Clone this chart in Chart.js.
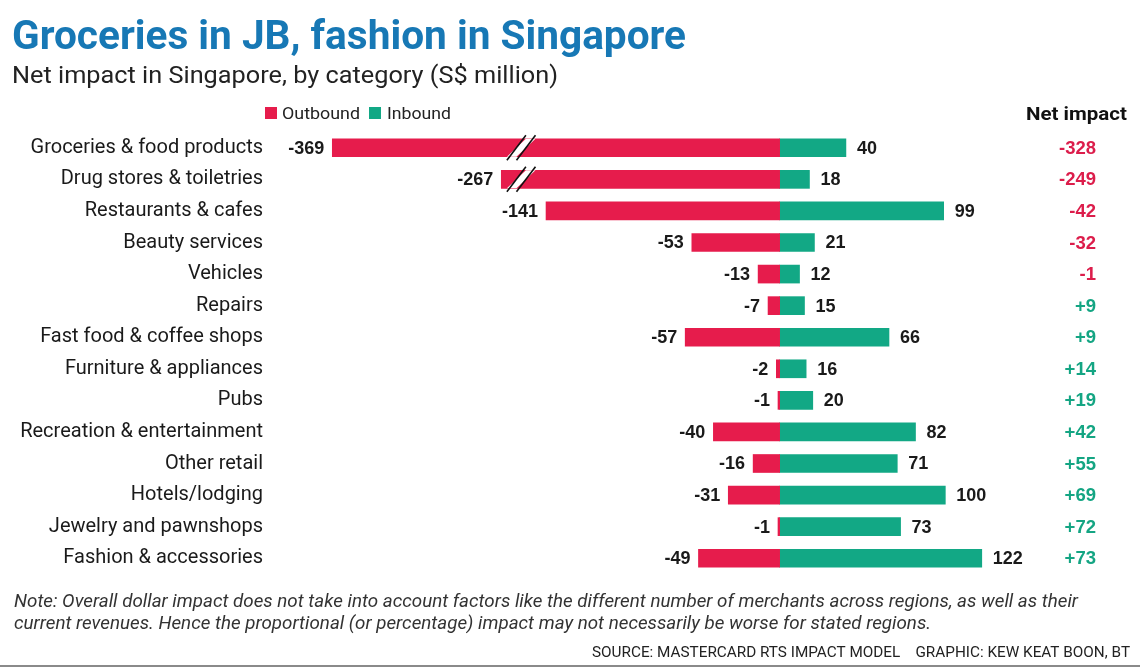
<!DOCTYPE html>
<html>
<head>
<meta charset="utf-8">
<script src="https://cdn.jsdelivr.net/npm/chart.js@4.4.1/dist/chart.umd.min.js"></script>
<style>
  body{margin:0;background:#fff;}
  #wrap{width:1140px;height:669px;}
</style>
</head>
<body>
<div id="wrap"><canvas id="grafica" width="1140" height="669"></canvas></div>
<script>
// Datos (S$ million)
const categorias=["Groceries & food products","Drug stores & toiletries","Restaurants & cafes","Beauty services","Vehicles","Repairs","Fast food & coffee shops","Furniture & appliances","Pubs","Recreation & entertainment","Other retail","Hotels/lodging","Jewelry and pawnshops","Fashion & accessories"];
const outbound=[-369,-267,-141,-53,-13,-7,-57,-2,-1,-40,-16,-31,-1,-49];
const inbound=[40,18,99,21,12,15,66,16,20,82,71,100,73,122];
const netImpact=[-328,-249,-42,-32,-1,9,9,14,19,42,55,69,72,73];
// Parte de la barra que se quita en las barras "rotas" (eje cortado)
const recorte=[99,99,0,0,0,0,0,0,0,0,0,0,0,0];
const corteEn=-156; // donde se dibuja el corte, en unidades del eje

const rojo="#e61c4c";
const verde="#12a885";
const rojoTexto="#dc1d4b";
const verdeTexto="#14a583";

const outboundDibujado=outbound.map((v,i)=>v+recorte[i]);

// escribe texto ajustando su ancho al de la referencia
function textoAjustado(ctx,txt,x,y,ancho,font,color,align){
  ctx.save();
  ctx.font=font;
  ctx.fillStyle=color;
  ctx.textBaseline="alphabetic";
  ctx.textAlign="left";
  let m=ctx.measureText(txt).width;
  let s=Math.min(1.3,Math.max(0.7,ancho/m));
  let x0= align=="right" ? x-m*s : x;
  ctx.translate(x0,y);
  ctx.scale(s,1);
  ctx.fillText(txt,0,0);
  ctx.restore();
  return s;
}

const pluginTextos={
  id:"textos",
  afterDraw(chart){
    const ctx=chart.ctx;
    const xs=chart.scales.x, ys=chart.scales.y;

    // Titulo y subtitulo
    textoAjustado(ctx,"Groceries in JB, fashion in Singapore",12,49,674,"bold 40px Roboto","#1778b5");
    textoAjustado(ctx,"Net impact in Singapore, by category (S$ million)",12,83,546,"23px Roboto","#222");

    // Leyenda
    ctx.fillStyle=rojo; ctx.fillRect(265,107,12,12);
    textoAjustado(ctx,"Outbound",282,119,78,"17px Roboto","#222");
    ctx.fillStyle=verde; ctx.fillRect(369,107,12,12);
    textoAjustado(ctx,"Inbound",387,119,64,"17px Roboto","#222");

    // Cabecera net impact
    textoAjustado(ctx,"Net impact",1127,120,101,"bold 19px Roboto","#111","right");

    // Cortes en las barras largas
    const metaOut=chart.getDatasetMeta(0);
    recorte.forEach((r,i)=>{
      if(!r) return;
      const yc=ys.getPixelForValue(i);
      const xc=xs.getPixelForValue(corteEn);
      const h=12.5, dx=9.5, gap=4.8;
      ctx.save();
      ctx.fillStyle="#fff";
      ctx.beginPath();
      ctx.moveTo(xc-gap-dx,yc+9);
      ctx.lineTo(xc+gap-dx,yc+9);
      ctx.lineTo(xc+gap+dx,yc-9);
      ctx.lineTo(xc-gap+dx,yc-9);
      ctx.closePath();
      ctx.fill();
      ctx.strokeStyle="#111";
      ctx.lineWidth=1.6;
      [-gap,gap].forEach(g=>{
        ctx.beginPath();
        ctx.moveTo(xc+g-dx,yc+h);
        ctx.lineTo(xc+g+dx,yc-h);
        ctx.stroke();
      });
      ctx.restore();
    });

    // Etiquetas de valores
    ctx.save();
    ctx.font="bold 18px 'Liberation Sans', Arial";
    ctx.textBaseline="middle";
    ctx.fillStyle="#1a1a1a";
    const metaIn=chart.getDatasetMeta(1);
    categorias.forEach((c,i)=>{
      const yc=ys.getPixelForValue(i)+1;
      ctx.textAlign="right";
      ctx.fillText(String(outbound[i]),metaOut.data[i].x-8,yc);
      ctx.textAlign="left";
      ctx.fillText(String(inbound[i]),metaIn.data[i].x+11,yc);
    });

    // Columna net impact
    ctx.textAlign="right";
    ctx.font="bold 18.5px 'Liberation Sans', Arial";
    netImpact.forEach((v,i)=>{
      const yc=ys.getPixelForValue(i)+1;
      ctx.fillStyle= v<0 ? rojoTexto : verdeTexto;
      ctx.fillText(v>0 ? "+"+v : String(v),1096,yc);
    });
    ctx.restore();

    // Nota y fuente
    const s=textoAjustado(ctx,"Note: Overall dollar impact does not take into account factors like the different number of merchants across regions, as well as their",14,607,1064,"italic 17.5px Roboto","#333");
    ctx.save();
    ctx.font="italic 17.5px Roboto";
    ctx.fillStyle="#333";
    ctx.translate(14,629);
    ctx.scale(s,1);
    ctx.fillText("current revenues. Hence the proportional (or percentage) impact may not necessarily be worse for stated regions.",0,0);
    ctx.restore();
    textoAjustado(ctx,"SOURCE: MASTERCARD RTS IMPACT MODEL    GRAPHIC: KEW KEAT BOON, BT",1130,657,538,"15px Roboto","#222","right");

    ctx.save();
    ctx.fillStyle="#8a8a8a";
    ctx.fillRect(0,665,1140,2);
    ctx.restore();
  }
};

const ctx=document.getElementById("grafica").getContext("2d");

const config={
  type:"bar",
  data:{
    labels:categorias,
    datasets:[
      {label:"Outbound",data:outboundDibujado,backgroundColor:rojo,barThickness:18,borderWidth:0},
      {label:"Inbound",data:inbound,backgroundColor:verde,barThickness:18,borderWidth:0}
    ]
  },
  options:{
    indexAxis:"y",
    responsive:false,
    animation:false,
    devicePixelRatio:1,
    layout:{padding:{top:132,bottom:95,left:0,right:140}},
    plugins:{legend:{display:false},tooltip:{enabled:false}},
    scales:{
      x:{display:false,stacked:true,min:-307,max:133},
      y:{
        stacked:true,
        grid:{display:false,drawTicks:false},
        border:{display:false},
        ticks:{color:"#1a1a1a",font:{family:"Roboto",size:20},padding:8},
        afterFit(scale){scale.width=271;}
      }
    }
  },
  plugins:[pluginTextos]
};

let miGrafica=new Chart(ctx,config);
</script>
</body>
</html>
